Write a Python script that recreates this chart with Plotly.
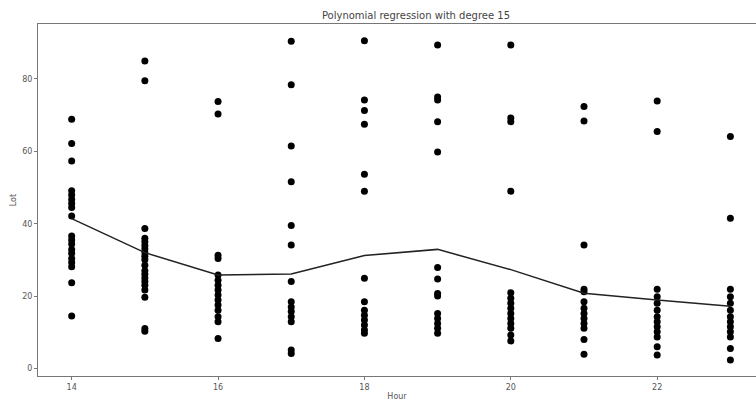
import plotly.graph_objects as go

hours = [14, 15, 16, 17, 18, 19, 20, 21, 22, 23]

lot_14 = [68.9, 62.2, 57.3, 49.1, 47.9, 46.7, 45.6, 44.5, 42.1, 36.6, 35.5, 34.4, 32.9, 31.8, 30.4, 29.3, 28.1, 23.7, 14.5]
lot_15 = [85.0, 79.5, 38.7, 36.0, 35.0, 34.0, 33.0, 32.0, 31.0, 30.0, 28.5, 27.0, 26.0, 25.0, 24.0, 23.0, 21.7, 19.7, 11.0, 10.3]
lot_16 = [73.8, 70.3, 31.3, 30.4, 25.8, 24.4, 23.0, 21.7, 20.3, 18.9, 17.5, 16.1, 14.3, 12.9, 8.3]
lot_17 = [90.4, 78.4, 61.5, 51.6, 39.5, 34.1, 24.0, 18.4, 17.0, 15.7, 14.3, 12.9, 5.1, 4.1]
lot_18 = [90.6, 74.2, 71.3, 67.5, 53.7, 49.0, 24.9, 18.4, 16.1, 14.7, 13.4, 12.0, 10.6, 9.7]
lot_19 = [89.4, 75.0, 74.2, 68.2, 59.8, 27.9, 24.7, 20.7, 20.0, 15.2, 13.8, 12.4, 11.1, 9.7]
lot_20 = [89.4, 69.2, 68.2, 49.0, 20.9, 19.4, 18.0, 16.6, 15.2, 13.8, 12.4, 11.1, 9.2, 7.6]
lot_21 = [72.4, 68.4, 34.1, 21.9, 21.2, 18.4, 16.6, 15.2, 13.8, 12.4, 11.1, 8.0, 3.9]
lot_22 = [73.9, 65.5, 21.9, 19.8, 18.0, 16.1, 14.3, 12.9, 11.5, 10.1, 8.7, 6.0, 3.7]
lot_23 = [64.1, 41.5, 21.9, 19.8, 18.0, 16.1, 14.3, 12.9, 11.5, 10.1, 8.7, 5.5, 2.3]

fit_values = [41.4, 32.0, 25.8, 26.1, 31.2, 32.9, 27.3, 20.8, 18.9, 17.2]

x_ticks = [14, 16, 18, 20, 22]
y_ticks = [0, 20, 40, 60, 80]

groups = [lot_14, lot_15, lot_16, lot_17, lot_18, lot_19, lot_20, lot_21, lot_22, lot_23]
xs, ys = [], []
for h, vals in zip(hours, groups):
    xs.extend([h] * len(vals))
    ys.extend(vals)

fig = go.Figure()
fig.add_trace(go.Scatter(x=xs, y=ys, mode="markers",
                         marker=dict(color="black", size=7),
                         showlegend=False, hoverinfo="skip"))
fig.add_trace(go.Scatter(x=hours, y=fit_values, mode="lines",
                         line=dict(color="#222222", width=1.5),
                         showlegend=False, hoverinfo="skip"))

W, H = 756, 405
axis_font = dict(family="DejaVu Sans", size=8, color="#555555")
fig.update_layout(
    width=W, height=H,
    margin=dict(l=38, r=0, t=24, b=29, autoexpand=False),
    paper_bgcolor="white", plot_bgcolor="white",
    hovermode=False,
    title=dict(text="Polynomial regression with degree 15",
               x=398 / W, xanchor="center", xref="paper",
               y=1 - 15 / H, yanchor="middle",
               font=dict(family="DejaVu Sans", size=10, color="#444444")),
    xaxis=dict(range=[13.54, 23.35], tickvals=x_ticks,
               ticktext=[str(v) for v in x_ticks],
               showgrid=False, zeroline=False, automargin=False,
               showline=True, linecolor="#777777", linewidth=1, mirror=True,
               ticks="outside", ticklen=3, tickcolor="#777777",
               tickfont=axis_font,
               title=dict(text="Hour", standoff=2,
                          font=dict(family="DejaVu Sans", size=8, color="#555555"))),
    yaxis=dict(range=[-2.1, 95.2], tickvals=y_ticks,
               ticktext=[str(v) for v in y_ticks],
               showgrid=False, zeroline=False, automargin=False,
               showline=True, linecolor="#777777", linewidth=1,
               ticks="outside", ticklen=3, tickcolor="#777777",
               tickfont=axis_font,
               title=dict(text="Lot", standoff=4,
                          font=dict(family="DejaVu Sans", size=8, color="#555555"))),
)

fig.write_html(
    "out.html",
    config={"displayModeBar": False, "staticPlot": True},
    post_script="document.body.style.margin='0';document.body.style.overflow='hidden';",
)
